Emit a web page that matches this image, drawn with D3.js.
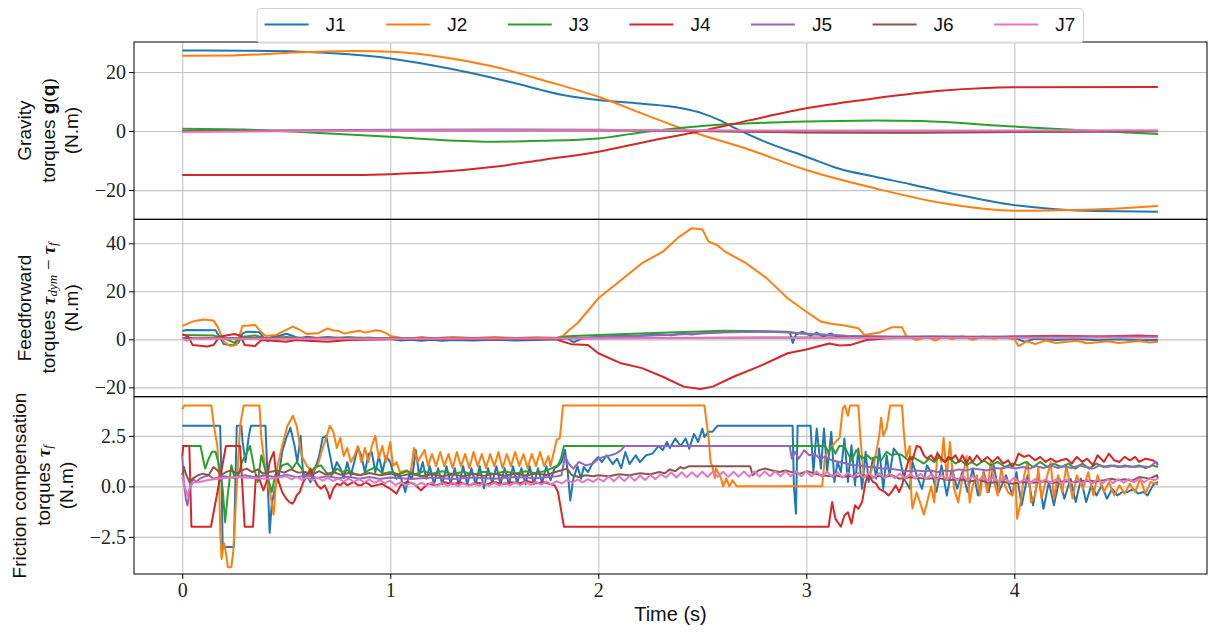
<!DOCTYPE html>
<html>
<head>
<meta charset="utf-8">
<script src="https://cdn.jsdelivr.net/npm/d3@7"></script>
<style>
body { margin: 0; background: #fff; }
</style>
</head>
<body>
<svg id="chart" width="1211" height="633"></svg>
<script>
var joints = ["J1", "J2", "J3", "J4", "J5", "J6", "J7"];
var colors = ["#1f77b4", "#ff7f0e", "#2ca02c", "#d62728", "#9467bd", "#8c564b", "#e377c2"];

var xTicks = [0, 1, 2, 3, 4];
var gravTicks = [-20, 0, 20];
var ffTicks = [-20, 0, 20, 40];
var fricTicks = [-2.5, 0, 2.5];

// gravity torques g(q), [time, value]
var gravJ1 = [[0,27.3],[0.3,27.2],[0.57,26.9],[0.8,26.0],[1.0,24.6],[1.2,22.3],[1.4,19.5],[1.6,16.2],[1.83,12.2],[2.0,10.5],[2.2,9.3],[2.4,7.7],[2.5,6.0],[2.58,3.8],[2.66,0.9],[2.8,-3.6],[3.0,-8.7],[3.15,-12.6],[3.33,-15.5],[3.5,-18.0],[3.66,-20.6],[3.83,-23.0],[4.0,-25.1],[4.2,-26.5],[4.39,-27.1],[4.69,-27.3]];
var gravJ2 = [[0,25.5],[0.24,25.6],[0.57,26.7],[0.84,27.1],[1.0,26.9],[1.24,25.2],[1.5,21.8],[1.73,17.3],[2.0,11.6],[2.23,5.4],[2.4,0.9],[2.5,-1.4],[2.73,-6.4],[3.0,-13.2],[3.33,-19.4],[3.66,-24.5],[4.0,-27.0],[4.22,-26.8],[4.5,-26.2],[4.69,-25.4]];
var gravJ3 = [[0,0.8],[0.3,0.5],[0.57,-0.3],[1.0,-1.9],[1.24,-3.0],[1.5,-3.6],[1.73,-3.3],[2.0,-2.5],[2.23,-0.2],[2.5,1.7],[2.73,2.6],[3.0,3.2],[3.33,3.6],[3.55,3.4],[4.0,1.5],[4.39,0.0],[4.69,-1.0]];
var gravJ4 = [[0,-14.9],[0.74,-14.9],[1.0,-14.6],[1.24,-13.8],[1.5,-12.1],[1.73,-9.8],[2.0,-7.0],[2.23,-3.6],[2.5,0.1],[2.73,3.7],[3.0,7.7],[3.33,11.1],[3.66,13.7],[4.0,14.8],[4.69,14.9]];
var gravJ5 = [[0,-0.1],[0.5,0.2],[1.0,0.4],[1.5,0.5],[2.0,0.4],[2.5,0.0],[3.0,-0.4],[3.5,-0.5],[4.0,-0.3],[4.69,0.0]];
var gravJ6 = [[0,0.0],[1.0,0.2],[2.0,0.2],[2.5,0.0],[3.0,-0.5],[3.5,-0.6],[4.0,-0.3],[4.69,-0.1]];
var gravJ7 = [[0,-0.3],[1.0,0.2],[2.0,0.3],[3.0,0.2],[4.0,0.2],[4.69,0.3]];

// feedforward torques tau_dym - tau_f
var ffJ1 = [[0,3.5],[0.02,3.9],[0.16,3.8],[0.18,1],[0.2,-2],[0.24,-2.5],[0.27,-1.5],[0.29,2.5],[0.31,3.2],[0.37,3.0],[0.39,0.8],[0.41,-0.8],[0.43,1.2],[0.47,1.5],[0.5,2.3],[0.53,1.5],[0.56,0.4],[0.6,1.1],[0.65,0.6],[0.7,1.0],[0.75,0.5],[0.8,0.9],[0.85,0.4],[0.9,0.7],[0.95,0.3],[1.0,0.2],[1.05,-0.5],[1.1,-0.2],[1.15,-0.6],[1.2,-0.2],[1.25,-0.6],[1.3,-0.3],[1.4,-0.5],[1.5,-0.2],[1.6,-0.5],[1.7,-0.3],[1.8,0.0],[1.85,0.6],[1.88,-1.2],[1.92,0.3],[2.0,1.0],[2.1,1.5],[2.2,1.6],[2.3,2.0],[2.35,1.7],[2.4,2.4],[2.45,2.0],[2.5,2.6],[2.6,3.0],[2.7,3.3],[2.8,3.2],[2.92,3.1],[2.935,-1.5],[2.95,2.0],[2.98,3.2],[3.02,1.5],[3.05,2.8],[3.08,1.2],[3.12,2.4],[3.15,1.0],[3.25,0.9],[3.4,1.0],[3.6,1.2],[3.8,1.0],[4.0,0.6],[4.05,-1.0],[4.1,0.2],[4.2,-0.3],[4.3,0.1],[4.4,-0.4],[4.5,0.0],[4.6,-0.4],[4.69,-0.3]];
var ffJ2 = [[0,5.6],[0.05,7.4],[0.1,8.3],[0.15,7.8],[0.17,5.3],[0.2,-1.0],[0.23,-2.8],[0.26,-2.4],[0.29,5.6],[0.35,6.0],[0.37,3.9],[0.4,1.4],[0.45,1.8],[0.5,3.9],[0.53,5.3],[0.56,4.2],[0.6,2.2],[0.65,2.5],[0.7,4.6],[0.72,3.8],[0.75,3.5],[0.78,2.4],[0.8,2.8],[0.83,3.3],[0.85,3.6],[0.88,2.8],[0.9,3.2],[0.93,3.8],[0.95,3.6],[0.98,2.6],[1.0,1.4],[1.05,0.7],[1.1,0.4],[1.15,1.0],[1.2,0.5],[1.3,1.0],[1.4,0.6],[1.5,1.0],[1.6,0.6],[1.7,0.9],[1.8,0.7],[1.83,1.4],[1.86,3.9],[1.9,6.7],[2.0,17.1],[2.11,24.7],[2.21,31.7],[2.31,36.5],[2.39,42.8],[2.45,46.3],[2.5,45.8],[2.53,40.7],[2.57,39.3],[2.61,36.5],[2.71,31.7],[2.81,25.4],[2.91,17.1],[3.0,11.5],[3.07,7.4],[3.12,6.5],[3.17,6.0],[3.25,4.6],[3.28,1.8],[3.35,2.8],[3.41,5.0],[3.46,5.0],[3.48,1.4],[3.53,-0.3],[3.58,1.0],[3.62,-0.5],[3.66,1.2],[3.7,0.0],[3.75,1.3],[3.8,-0.2],[3.85,1.2],[3.9,0.2],[3.95,0.8],[4.0,0.0],[4.02,-2.8],[4.06,-0.8],[4.1,-2.0],[4.15,-0.5],[4.2,-1.5],[4.3,-0.6],[4.35,-1.6],[4.45,-0.8],[4.5,-1.5],[4.6,-0.7],[4.65,-1.3],[4.69,-1.0]];
var ffJ3 = [[0,1.8],[0.15,1.6],[0.2,0.5],[0.25,-1.5],[0.28,1.0],[0.35,1.6],[0.4,0.5],[0.5,1.0],[0.6,0.6],[0.8,0.8],[1.0,0.4],[1.4,0.3],[1.8,0.6],[1.85,1.3],[2.0,1.8],[2.3,2.7],[2.6,3.6],[2.9,3.2],[3.0,2.2],[3.2,1.4],[3.4,1.0],[4.0,0.9],[4.69,1.0]];
var ffJ4 = [[0,2.2],[0.03,1.0],[0.05,-2.4],[0.12,-3.0],[0.15,-2.4],[0.18,1.1],[0.25,2.2],[0.28,1.5],[0.3,-2.4],[0.35,-2.8],[0.38,-0.3],[0.45,-0.7],[0.5,-1.0],[0.55,-0.3],[0.6,-0.6],[0.7,-1.0],[0.8,-0.3],[1.0,0.0],[1.8,0.0],[1.82,-0.7],[1.87,-2.0],[1.95,-2.4],[2.0,-5.8],[2.11,-10.0],[2.21,-12.0],[2.31,-15.6],[2.41,-19.7],[2.49,-20.7],[2.55,-19.7],[2.65,-15.6],[2.77,-11.4],[2.91,-5.8],[3.0,-4.2],[3.11,-1.7],[3.16,-2.6],[3.21,-2.4],[3.29,-0.3],[3.4,0.5],[3.6,1.0],[3.8,0.6],[4.0,1.2],[4.2,1.5],[4.4,1.2],[4.6,1.6],[4.69,1.3]];
var ffJ5 = [[0,0.5],[1.0,0.4],[1.8,0.5],[2.0,0.9],[2.3,1.7],[2.6,2.8],[2.8,3.3],[2.95,2.6],[3.2,1.4],[3.5,1.1],[4.69,1.2]];
var ffJ6 = [[0,0.6],[1.0,0.5],[2.0,0.5],[3.0,0.8],[4.0,0.9],[4.69,1.0]];
var ffJ7 = [[0,0.5],[0.02,-0.6],[0.05,0.3],[1.0,0.2],[2.0,0.4],[3.0,0.6],[4.0,0.7],[4.69,0.8]];

// friction compensation torques tau_f
var frJ1 = [[0,3.0],[0.182,3.0],[0.19,0],[0.194,-3.0],[0.248,-3.0],[0.262,3.0],[0.284,3.0],[0.29,2.2],[0.304,1.2],[0.32,2.5],[0.33,3.0],[0.4,3.0],[0.407,1.2],[0.42,-2.3],[0.43,-0.9],[0.447,0],[0.464,0.5],[0.48,1.7],[0.5,2.4],[0.52,2.9],[0.54,2.0],[0.553,1.2],[0.569,2.5],[0.582,0.4],[0.6,0.55],[0.616,0.2],[0.633,0.7],[0.658,1.5],[0.675,2.4],[0.692,2.5],[0.709,1.6],[0.726,0.7],[0.743,1.2],[0.76,0.9],[0.776,0.4],[0.793,1.2],[0.81,0.55],[0.827,1.2],[0.844,1.95],[0.861,1.5],[0.878,0.7],[0.895,1.6],[0.911,1.7],[0.928,0.7],[0.945,1.5],[0.962,0.7],[0.98,1.5],[1.0,1.2],[1.013,0.7],[1.03,0.38],[1.046,0.55],[1.063,0.05],[1.072,-0.28],[1.09,0.55],[1.105,0.38],[1.122,1.8],[1.139,0.55],[1.156,1.2],[1.173,0.38],[1.19,1.0],[1.21,0.1],[1.23,0.9],[1.25,0.1],[1.27,1.0],[1.29,0.15],[1.31,0.9],[1.33,0.05],[1.35,1.0],[1.37,0.1],[1.39,0.9],[1.41,0.1],[1.43,1.0],[1.45,-0.1],[1.47,0.9],[1.49,0.15],[1.51,1.0],[1.53,0.1],[1.55,0.9],[1.57,0.1],[1.59,1.0],[1.61,0.15],[1.63,0.9],[1.65,0.1],[1.67,1.0],[1.69,0.1],[1.71,0.9],[1.73,0.15],[1.75,1.0],[1.77,0.3],[1.79,0.9],[1.806,1.0],[1.823,1.2],[1.84,1.8],[1.853,0.7],[1.865,-0.7],[1.88,0.38],[1.9,1.0],[1.917,0.38],[1.93,0.96],[1.95,0.7],[1.975,1.2],[2.0,1.45],[2.017,1.2],[2.04,1.54],[2.07,1.1],[2.09,1.37],[2.11,0.9],[2.13,1.7],[2.15,1.1],[2.18,1.54],[2.2,1.2],[2.23,1.54],[2.26,1.62],[2.29,2.0],[2.31,1.8],[2.33,2.2],[2.344,1.9],[2.37,2.37],[2.395,2.0],[2.42,2.37],[2.437,1.87],[2.46,2.6],[2.48,2.2],[2.5,2.86],[2.51,2.45],[2.53,2.7],[2.548,2.7],[2.573,3.0],[2.934,3.0],[2.94,0.05],[2.95,-1.36],[2.958,3.0],[3.02,3.0],[3.034,0.7],[3.05,2.86],[3.07,0.88],[3.085,2.86],[3.1,0.71],[3.12,2.7],[3.135,0.22],[3.15,1.21],[3.166,0.71],[3.183,2.37],[3.2,0.22],[3.217,2.04],[3.234,0.05],[3.25,1.87],[3.268,-0.12],[3.285,1.71],[3.3,0.22],[3.32,1.37],[3.336,0.38],[3.35,1.87],[3.37,-0.12],[3.386,1.54],[3.4,0.55],[3.42,1.87],[3.446,1.54],[3.47,0.38],[3.497,-0.12],[3.51,1.21],[3.53,0.55],[3.556,-0.12],[3.58,1.04],[3.607,0.55],[3.625,-0.28],[3.65,1.04],[3.675,-0.45],[3.7,0.88],[3.725,-0.12],[3.75,0.71],[3.775,-0.28],[3.8,0.88],[3.825,-0.45],[3.853,0.71],[3.877,-0.28],[3.9,1.04],[3.925,-0.28],[3.96,0.55],[3.99,-0.45],[4.01,0.71],[4.035,-0.94],[4.064,0.55],[4.09,-0.94],[4.115,0.55],[4.14,-1.11],[4.166,0.22],[4.19,-0.94],[4.217,0.38],[4.24,-0.61],[4.27,0.38],[4.295,-0.78],[4.32,0.38],[4.345,-0.78],[4.37,0.05],[4.395,-0.45],[4.42,0.05],[4.445,-0.61],[4.47,-0.12],[4.495,-0.45],[4.52,-0.28],[4.545,-0.28],[4.57,-0.12],[4.595,-0.36],[4.62,-0.28],[4.64,-0.45],[4.666,0.05],[4.69,0.22]];
var frJ2 = [[0,3.82],[0.01,4.0],[0.14,4.0],[0.152,3.0],[0.169,2.0],[0.177,0.4],[0.183,-2.4],[0.189,-3.6],[0.2,-2.8],[0.21,-3.3],[0.219,-4.0],[0.236,-4.0],[0.245,-3.26],[0.262,0],[0.278,3.0],[0.295,4.0],[0.371,4.0],[0.38,2.4],[0.405,0.4],[0.422,-0.3],[0.439,-1.4],[0.456,0.9],[0.48,2.0],[0.506,3.0],[0.532,3.5],[0.55,3.0],[0.574,1.5],[0.6,1.0],[0.624,0.7],[0.65,1.0],[0.675,1.9],[0.692,2.4],[0.709,3.0],[0.726,2.7],[0.743,1.9],[0.76,2.4],[0.776,1.5],[0.793,1.9],[0.81,1.2],[0.827,1.5],[0.844,2.0],[0.861,1.2],[0.878,1.9],[0.895,1.2],[0.911,2.0],[0.928,2.5],[0.945,1.4],[0.962,2.0],[0.979,1.2],[1.0,2.2],[1.013,1.0],[1.03,1.2],[1.046,0.7],[1.08,0.8],[1.097,0.6],[1.114,1.9],[1.131,1.2],[1.148,1.5],[1.165,1.8],[1.182,1.0],[1.2,1.6],[1.22,1.0],[1.24,1.7],[1.26,1.0],[1.28,1.6],[1.3,0.9],[1.32,1.7],[1.34,1.0],[1.36,1.6],[1.38,0.9],[1.4,1.7],[1.42,1.0],[1.44,1.6],[1.46,0.9],[1.48,1.6],[1.5,1.0],[1.52,1.7],[1.54,0.9],[1.56,1.6],[1.58,1.0],[1.6,1.7],[1.62,1.0],[1.64,1.6],[1.66,0.9],[1.68,1.6],[1.7,1.0],[1.72,1.7],[1.74,1.0],[1.76,1.5],[1.77,1.0],[1.8,2.3],[1.815,2.4],[1.82,2.9],[1.83,4.0],[2.51,4.0],[2.53,2.4],[2.54,1.2],[2.548,1.0],[2.56,0.4],[2.565,0.9],[2.59,0.4],[2.6,0],[2.615,0.4],[2.63,0],[2.645,0.3],[2.666,0],[3.076,0],[3.09,1.5],[3.14,2.2],[3.16,2.4],[3.175,3.85],[3.185,4.0],[3.2,3.5],[3.21,4.0],[3.25,4.0],[3.26,2.4],[3.276,0.5],[3.293,0.5],[3.31,0.7],[3.327,1.2],[3.35,2.5],[3.36,3.4],[3.37,2.5],[3.386,2.9],[3.403,4.0],[3.46,4.0],[3.47,2.5],[3.48,1.4],[3.497,2.0],[3.505,-0.45],[3.51,-1.1],[3.53,-0.3],[3.547,-0.8],[3.565,-1.4],[3.58,-0.8],[3.6,0],[3.615,-0.8],[3.63,1.7],[3.65,1.2],[3.66,2.4],[3.675,0.4],[3.69,2.2],[3.71,-0.1],[3.73,-0.8],[3.75,0.4],[3.77,1.5],[3.785,-0.8],[3.8,0.05],[3.82,0.55],[3.835,-0.45],[3.85,0.7],[3.87,-0.3],[3.886,1.2],[3.903,0.2],[3.92,-0.45],[3.937,0.9],[3.954,0.05],[3.97,-0.3],[3.99,-0.45],[4.005,0.4],[4.013,-1.6],[4.03,-0.8],[4.047,0.55],[4.064,1.2],[4.08,-0.8],[4.1,-0.45],[4.115,0.9],[4.13,-0.6],[4.15,0.2],[4.175,1.2],[4.19,-0.6],[4.21,0.55],[4.23,-0.3],[4.25,1.0],[4.28,-0.6],[4.3,0.55],[4.33,-0.12],[4.355,0.7],[4.38,-0.45],[4.4,0.55],[4.43,-0.28],[4.455,0.2],[4.48,-0.45],[4.505,0.05],[4.53,-0.36],[4.555,0.13],[4.58,-0.28],[4.605,0.38],[4.63,-0.36],[4.655,0.22],[4.68,0.13],[4.69,0.08]];
var frJ3 = [[0,2.0],[0.088,2.0],[0.1,1.37],[0.11,0.88],[0.127,1.37],[0.143,1.71],[0.16,1.71],[0.177,1.04],[0.194,-0.12],[0.206,-1.77],[0.22,-0.28],[0.236,1.04],[0.253,0.38],[0.27,0.55],[0.287,1.21],[0.304,1.54],[0.326,2.0],[0.346,0.88],[0.363,0.22],[0.38,1.54],[0.397,0.88],[0.413,0.38],[0.43,-0.28],[0.447,0.55],[0.464,0.71],[0.48,1.04],[0.506,1.13],[0.53,0.88],[0.55,1.21],[0.574,0.88],[0.59,0.55],[0.616,0.71],[0.64,0.96],[0.667,1.04],[0.69,0.71],[0.717,0.55],[0.743,0.88],[0.768,0.71],[0.793,0.79],[0.827,0.63],[0.86,0.55],[0.895,0.79],[0.93,0.96],[0.962,0.63],[1.0,0.71],[1.04,0.6],[1.08,0.75],[1.12,0.6],[1.16,0.75],[1.2,0.62],[1.25,0.75],[1.3,0.6],[1.35,0.72],[1.4,0.58],[1.45,0.72],[1.5,0.6],[1.55,0.75],[1.6,0.62],[1.65,0.75],[1.7,0.65],[1.75,0.78],[1.806,1.04],[1.82,1.37],[1.835,2.0],[3.09,2.0],[3.107,1.71],[3.124,1.95],[3.14,1.62],[3.158,2.0],[3.183,2.0],[3.2,1.62],[3.217,1.29],[3.24,1.79],[3.268,1.37],[3.293,1.54],[3.31,1.37],[3.336,1.46],[3.36,1.29],[3.386,1.71],[3.41,1.54],[3.437,1.62],[3.46,1.54],[3.49,1.29],[3.51,1.46],[3.54,1.29],[3.565,1.13],[3.59,1.37],[3.615,1.21],[3.64,1.46],[3.666,1.21],[3.69,1.37],[3.717,1.13],[3.742,1.29],[3.77,1.04],[3.793,1.21],[3.82,1.04],[3.853,1.29],[3.886,1.04],[3.92,1.21],[3.954,0.96],[3.99,1.13],[4.02,1.04],[4.056,1.21],[4.09,0.96],[4.124,1.21],[4.158,0.96],[4.19,1.13],[4.225,0.96],[4.26,1.13],[4.293,0.88],[4.327,1.13],[4.36,0.88],[4.395,1.13],[4.43,0.96],[4.463,1.04],[4.5,0.96],[4.53,1.04],[4.564,0.96],[4.6,1.04],[4.63,0.91],[4.666,1.04],[4.69,0.96]];
var frJ4 = [[0,1.5],[0.005,2.0],[0.034,2.0],[0.044,-2.0],[0.138,-2.0],[0.21,2.0],[0.278,2.0],[0.3,-2.0],[0.34,-2.0],[0.354,0.55],[0.37,0.38],[0.39,-0.2],[0.405,0.22],[0.42,1.21],[0.44,1.71],[0.45,0.71],[0.464,0.22],[0.48,-0.28],[0.5,-0.61],[0.515,-0.78],[0.53,-0.86],[0.54,-0.7],[0.55,-0.45],[0.565,-0.28],[0.582,0.22],[0.6,0.55],[0.616,0.88],[0.633,0.38],[0.65,0.05],[0.667,-0.12],[0.684,0.05],[0.7,-0.28],[0.709,-0.61],[0.726,-0.12],[0.743,0.13],[0.76,0.05],[0.776,0.22],[0.793,0.05],[0.81,0.15],[0.827,0.22],[0.845,0.05],[0.86,0.05],[0.88,0.2],[0.895,0.13],[0.91,0.0],[0.93,0.05],[0.96,0.13],[0.98,0.0],[1.0,-0.12],[1.03,-0.36],[1.05,0.05],[1.08,0.22],[1.114,0.13],[1.148,-0.2],[1.18,0.13],[1.22,0.05],[1.26,0.2],[1.3,0.1],[1.34,0.2],[1.38,0.05],[1.42,0.18],[1.46,0.1],[1.5,0.22],[1.54,0.1],[1.58,0.2],[1.62,0.15],[1.66,0.25],[1.7,0.15],[1.74,0.2],[1.79,0.05],[1.806,-0.28],[1.82,-1.11],[1.835,-2.0],[3.107,-2.0],[3.124,-0.78],[3.14,-1.61],[3.166,-2.0],[3.183,-1.44],[3.2,-1.28],[3.217,-1.85],[3.234,-0.94],[3.25,-1.11],[3.268,-0.78],[3.285,0.22],[3.3,0.55],[3.32,0.22],[3.336,0.13],[3.35,-0.12],[3.378,-0.28],[3.395,-0.45],[3.41,-0.28],[3.43,0.05],[3.446,-0.28],[3.46,0.05],[3.48,0.88],[3.497,1.46],[3.51,1.29],[3.53,2.0],[3.547,1.95],[3.565,1.54],[3.58,1.37],[3.6,1.54],[3.615,1.29],[3.63,1.62],[3.65,1.37],[3.666,1.21],[3.683,1.46],[3.7,1.37],[3.717,1.54],[3.734,1.21],[3.75,1.54],[3.77,1.13],[3.785,1.46],[3.8,1.21],[3.82,1.54],[3.844,1.21],[3.87,1.46],[3.895,1.21],[3.92,1.46],[3.946,1.13],[3.97,1.29],[3.99,0.96],[4.005,1.21],[4.02,1.62],[4.047,1.46],[4.07,1.54],[4.1,1.29],[4.124,1.46],[4.15,1.21],[4.175,1.37],[4.2,1.21],[4.225,1.29],[4.25,1.37],[4.276,1.13],[4.3,1.46],[4.327,1.21],[4.35,1.37],[4.378,1.04],[4.4,1.54],[4.43,1.21],[4.454,1.62],[4.48,1.29],[4.505,1.21],[4.53,1.46],[4.556,1.29],[4.58,1.46],[4.6,1.21],[4.63,1.37],[4.666,1.29],[4.69,1.13]];
var frJ5 = [[0,1.5],[0.008,0.2],[0.017,-0.6],[0.025,-0.95],[0.034,-0.28],[0.05,0.38],[0.068,0.22],[0.084,0.38],[0.1,0.46],[0.127,0.55],[0.15,0.38],[0.2,0.5],[0.25,0.42],[0.3,0.55],[0.35,0.45],[0.4,0.55],[0.45,0.45],[0.5,0.58],[0.55,0.45],[0.6,0.55],[0.65,0.42],[0.7,0.5],[0.75,0.4],[0.8,0.48],[0.85,0.38],[0.9,0.46],[0.95,0.36],[1.0,0.44],[1.1,0.36],[1.2,0.44],[1.3,0.36],[1.4,0.44],[1.5,0.38],[1.6,0.46],[1.7,0.4],[1.8,0.5],[1.823,0.55],[1.84,1.5],[1.857,1.13],[1.88,0.88],[1.907,1.21],[1.94,1.04],[1.975,1.13],[2.0,1.37],[2.025,1.46],[2.06,1.54],[2.084,1.62],[2.11,1.79],[2.127,2.0],[2.92,2.0],[2.93,1.37],[2.946,1.71],[2.963,1.37],[2.99,1.79],[3.014,1.54],[3.04,1.62],[3.064,1.37],[3.09,1.46],[3.124,1.29],[3.158,1.21],[3.19,1.13],[3.225,1.04],[3.26,1.04],[3.293,0.96],[3.327,0.96],[3.36,0.88],[3.395,0.88],[3.43,0.84],[3.46,0.79],[3.497,0.75],[3.53,0.79],[3.565,0.75],[3.6,0.79],[3.63,0.71],[3.666,0.79],[3.7,0.75],[3.734,0.84],[3.77,0.79],[3.8,0.88],[3.836,0.84],[3.87,0.79],[3.9,0.91],[3.937,0.88],[3.97,0.96],[4.005,0.88],[4.04,0.96],[4.073,0.88],[4.107,1.0],[4.14,0.91],[4.175,1.04],[4.21,0.91],[4.24,1.0],[4.276,0.91],[4.31,1.04],[4.344,0.96],[4.378,0.88],[4.41,1.04],[4.446,0.96],[4.48,1.04],[4.513,0.96],[4.547,1.0],[4.58,0.96],[4.615,1.0],[4.65,0.96],[4.68,1.21],[4.69,1.04]];
var frJ6 = [[0,0.55],[0.008,0.96],[0.017,0.63],[0.034,0.22],[0.05,0.38],[0.076,0.55],[0.1,0.63],[0.127,0.55],[0.15,0.96],[0.17,0.79],[0.186,0.55],[0.21,0.71],[0.236,0.79],[0.26,0.63],[0.287,0.79],[0.31,0.88],[0.337,0.71],[0.363,0.84],[0.388,0.63],[0.42,0.71],[0.456,0.79],[0.49,0.68],[0.523,0.84],[0.557,0.68],[0.59,0.71],[0.624,0.58],[0.658,0.75],[0.69,0.58],[0.726,0.71],[0.76,0.58],[0.8,0.66],[0.85,0.55],[0.9,0.66],[0.95,0.55],[1.0,0.63],[1.05,0.52],[1.1,0.62],[1.15,0.5],[1.2,0.6],[1.25,0.5],[1.3,0.6],[1.35,0.5],[1.4,0.62],[1.45,0.52],[1.5,0.62],[1.55,0.52],[1.6,0.64],[1.65,0.54],[1.7,0.64],[1.75,0.56],[1.806,0.75],[1.85,0.88],[1.873,0.55],[1.907,0.46],[1.94,0.55],[1.975,0.5],[2.0,0.55],[2.05,0.5],[2.1,0.6],[2.15,0.55],[2.2,0.65],[2.25,0.6],[2.293,0.71],[2.32,0.65],[2.344,0.84],[2.37,0.75],[2.395,0.96],[2.41,0.88],[2.437,1.0],[2.73,1.0],[2.742,0.55],[2.77,0.79],[2.8,0.88],[2.836,0.79],[2.87,0.71],[2.9,0.79],[2.937,0.68],[2.97,0.63],[3.005,0.75],[3.04,0.63],[3.073,0.55],[3.107,0.51],[3.14,0.55],[3.175,0.46],[3.21,0.51],[3.24,0.46],[3.276,0.55],[3.31,0.41],[3.344,0.51],[3.378,0.46],[3.41,0.55],[3.446,0.38],[3.5,0.45],[3.58,0.38],[3.63,0.42],[3.683,0.3],[3.73,0.36],[3.785,0.25],[3.83,0.3],[3.886,0.18],[3.94,0.24],[3.99,0.13],[4.04,0.22],[4.09,0.18],[4.14,0.25],[4.19,0.18],[4.24,0.25],[4.29,0.22],[4.34,0.28],[4.395,0.25],[4.43,0.3],[4.463,0.38],[4.5,0.3],[4.53,0.35],[4.565,0.28],[4.6,0.46],[4.63,0.42],[4.65,0.38],[4.686,0.55],[4.69,0.38]];
var frJ7 = [[0,0.46],[0.01,0.05],[0.025,-0.45],[0.034,-0.12],[0.05,0.18],[0.084,0.22],[0.118,0.3],[0.17,0.38],[0.25,0.46],[0.337,0.41],[0.42,0.38],[0.5,0.5],[0.525,0.34],[0.55,0.48],[0.575,0.32],[0.6,0.46],[0.625,0.3],[0.65,0.44],[0.675,0.28],[0.7,0.42],[0.725,0.26],[0.75,0.4],[0.775,0.24],[0.8,0.38],[0.825,0.22],[0.85,0.36],[0.875,0.2],[0.9,0.34],[0.925,0.18],[0.95,0.3],[0.975,0.16],[1.0,0.28],[1.025,0.06],[1.05,0.2],[1.075,0.05],[1.1,0.19],[1.125,0.04],[1.15,0.18],[1.175,0.04],[1.2,0.18],[1.225,0.03],[1.25,0.17],[1.275,0.03],[1.3,0.17],[1.325,0.02],[1.35,0.16],[1.375,0.02],[1.4,0.16],[1.425,0.03],[1.45,0.17],[1.475,0.03],[1.5,0.18],[1.525,0.04],[1.55,0.18],[1.575,0.05],[1.6,0.2],[1.625,0.06],[1.65,0.21],[1.675,0.07],[1.7,0.22],[1.725,0.08],[1.75,0.24],[1.775,0.1],[1.8,0.26],[1.825,0.14],[1.85,0.32],[1.875,0.18],[1.9,0.34],[1.925,0.2],[1.95,0.36],[1.975,0.22],[2.0,0.4],[2.025,0.24],[2.05,0.5],[2.075,0.25],[2.1,0.5],[2.125,0.26],[2.15,0.52],[2.175,0.28],[2.2,0.54],[2.225,0.32],[2.25,0.56],[2.275,0.36],[2.3,0.6],[2.325,0.44],[2.35,0.7],[2.375,0.44],[2.4,0.7],[2.425,0.45],[2.45,0.7],[2.475,0.46],[2.5,0.72],[2.525,0.46],[2.55,0.72],[2.575,0.47],[2.6,0.72],[2.625,0.47],[2.65,0.72],[2.675,0.48],[2.7,0.74],[2.725,0.48],[2.75,0.74],[2.775,0.48],[2.8,0.74],[2.825,0.5],[2.85,0.75],[2.875,0.5],[2.9,0.75],[2.925,0.5],[2.95,0.75],[2.975,0.5],[3.0,0.75],[3.025,0.5],[3.05,0.74],[3.075,0.48],[3.1,0.72],[3.125,0.46],[3.15,0.7],[3.175,0.44],[3.2,0.68],[3.225,0.44],[3.25,0.68],[3.275,0.42],[3.3,0.66],[3.325,0.42],[3.35,0.66],[3.375,0.42],[3.4,0.64],[3.425,0.4],[3.45,0.64],[3.475,0.4],[3.5,0.62],[3.525,0.38],[3.55,0.62],[3.575,0.36],[3.6,0.6],[3.625,0.34],[3.65,0.58],[3.675,0.32],[3.7,0.56],[3.725,0.3],[3.75,0.54],[3.775,0.28],[3.8,0.52],[3.825,0.26],[3.85,0.5],[3.875,0.24],[3.9,0.48],[3.925,0.22],[3.95,0.46],[3.975,0.2],[4.0,0.44],[4.025,0.18],[4.05,0.38],[4.075,0.16],[4.1,0.36],[4.125,0.16],[4.15,0.36],[4.175,0.15],[4.2,0.35],[4.225,0.14],[4.25,0.34],[4.275,0.14],[4.3,0.34],[4.325,0.14],[4.35,0.34],[4.375,0.15],[4.4,0.35],[4.425,0.16],[4.45,0.36],[4.475,0.16],[4.5,0.36],[4.525,0.18],[4.55,0.36],[4.575,0.2],[4.6,0.38],[4.625,0.2],[4.65,0.4],[4.675,0.3],[4.69,0.4]];

var svg = d3.select("#chart");

var left = 134, right = 1207;
var x = d3.scaleLinear().domain([-0.232, 4.926]).range([left, right]);

var panels = [
  { top: 42, bottom: 219.3, domain: [-29.9, 30.17], ticks: gravTicks, fmt: d3.format("d"), curve: d3.curveMonotoneX,
    series: [gravJ1, gravJ2, gravJ3, gravJ4, gravJ5, gravJ6, gravJ7] },
  { top: 219.3, bottom: 396.7, domain: [-23.9, 50], ticks: ffTicks, fmt: d3.format("d"), curve: d3.curveLinear,
    series: [ffJ1, ffJ2, ffJ3, ffJ4, ffJ5, ffJ6, ffJ7] },
  { top: 396.7, bottom: 574, domain: [-4.34, 4.44], ticks: fricTicks, fmt: d3.format(".1f"), curve: d3.curveLinear,
    series: [frJ1, frJ2, frJ3, frJ4, frJ5, frJ6, frJ7] }
];

var tickFont = "'Liberation Serif', 'DejaVu Serif', serif";
var labelFont = "'Liberation Sans', Arial, sans-serif";

panels.forEach(function(p, pi) {
  var y = d3.scaleLinear().domain(p.domain).range([p.bottom, p.top]);
  var g = svg.append("g");

  svg.append("clipPath").attr("id", "clip" + pi)
    .append("rect").attr("x", left).attr("y", p.top).attr("width", right - left).attr("height", p.bottom - p.top);

  // grid
  var gx = g.append("g").attr("transform", "translate(0," + p.bottom + ")")
    .call(d3.axisBottom(x).tickValues(xTicks).tickSize(-(p.bottom - p.top)).tickFormat(""));
  var gy = g.append("g").attr("transform", "translate(" + left + ",0)")
    .call(d3.axisLeft(y).tickValues(p.ticks).tickSize(-(right - left)).tickFormat(""));
  [gx, gy].forEach(function(a) {
    a.select(".domain").remove();
    a.selectAll("line").attr("stroke", "#c4c4c4").attr("stroke-width", 1.1);
  });

  // lines
  var line = d3.line().curve(p.curve).x(function(d) { return x(d[0]); }).y(function(d) { return y(d[1]); });
  g.append("g").attr("clip-path", "url(#clip" + pi + ")")
    .selectAll("path").data(p.series).enter().append("path")
    .attr("d", line)
    .attr("fill", "none")
    .attr("stroke", function(d, i) { return colors[i]; })
    .attr("stroke-width", 2)
    .attr("stroke-linejoin", "round");

  // spines
  g.append("rect").attr("x", left).attr("y", p.top).attr("width", right - left).attr("height", p.bottom - p.top)
    .attr("fill", "none").attr("stroke", "#000").attr("stroke-width", 1);

  // y axis ticks
  var ay = g.append("g").attr("transform", "translate(" + left + ",0)")
    .call(d3.axisLeft(y).tickValues(p.ticks).tickSize(5).tickPadding(3).tickFormat(p.fmt));
  ay.select(".domain").remove();
  ay.selectAll("text").attr("font-family", tickFont).attr("font-size", 20).attr("fill", "#222");

  if (pi === 2) {
    var ax = g.append("g").attr("transform", "translate(0," + p.bottom + ")")
      .call(d3.axisBottom(x).tickValues(xTicks).tickSize(5).tickPadding(4).tickFormat(d3.format("d")));
    ax.select(".domain").remove();
    ax.selectAll("text").attr("font-family", tickFont).attr("font-size", 20).attr("fill", "#222");
  }
});

// y labels (rotated, three lines each)
function yLabel(cy, xs, build) {
  build.forEach(function(fn, i) {
    var t = svg.append("text")
      .attr("transform", "translate(" + xs[i] + "," + cy + ") rotate(-90)")
      .attr("text-anchor", "middle")
      .attr("dominant-baseline", "central")
      .attr("font-family", labelFont)
      .attr("font-size", 19)
      .attr("fill", "#111");
    fn(t);
  });
}
function plain(s) { return function(t) { t.text(s); }; }

yLabel(130.6, [24, 48, 71.5], [
  plain("Gravity"),
  function(t) {
    t.append("tspan").text("torques ");
    t.append("tspan").attr("font-weight", "bold").text("g");
    t.append("tspan").attr("font-family", tickFont).text("(");
    t.append("tspan").attr("font-weight", "bold").text("q");
    t.append("tspan").attr("font-family", tickFont).text(")");
  },
  plain("(N.m)")
]);

yLabel(308, [24.5, 48, 71.5], [
  plain("Feedforward"),
  function(t) {
    t.append("tspan").text("torques ");
    t.append("tspan").attr("font-family", tickFont).attr("font-weight", "bold").attr("font-style", "italic").text("τ");
    t.append("tspan").attr("font-family", tickFont).attr("font-style", "italic").attr("font-size", 13).attr("dy", 4).text("dym");
    t.append("tspan").attr("font-family", tickFont).attr("dy", -4).text(" − ");
    t.append("tspan").attr("font-family", tickFont).attr("font-weight", "bold").attr("font-style", "italic").text("τ");
    t.append("tspan").attr("font-family", tickFont).attr("font-style", "italic").attr("font-size", 13).attr("dy", 4).text("f");
  },
  plain("(N.m)")
]);

yLabel(485.5, [19.5, 43, 66], [
  plain("Friction compensation"),
  function(t) {
    t.append("tspan").text("torques ");
    t.append("tspan").attr("font-family", tickFont).attr("font-weight", "bold").attr("font-style", "italic").text("τ");
    t.append("tspan").attr("font-family", tickFont).attr("font-style", "italic").attr("font-size", 13).attr("dy", 4).text("f");
  },
  plain("(N.m)")
]);

// x label
svg.append("text")
  .attr("x", (left + right) / 2).attr("y", 621)
  .attr("text-anchor", "middle")
  .attr("font-family", labelFont).attr("font-size", 20).attr("fill", "#111")
  .text("Time (s)");

// legend
var legend = svg.append("g");
legend.append("rect")
  .attr("x", 257).attr("y", 8.5).attr("width", 826.5).attr("height", 34.5)
  .attr("rx", 4).attr("ry", 4)
  .attr("fill", "#fff").attr("fill-opacity", 0.85)
  .attr("stroke", "#d0d0d0").attr("stroke-width", 1);

var item = legend.selectAll("g.item").data(joints).enter().append("g")
  .attr("class", "item")
  .attr("transform", function(d, i) { return "translate(" + (264.6 + i * 121.6) + ",24.5)"; });
item.append("line").attr("x1", 0).attr("x2", 44).attr("y1", 0).attr("y2", 0)
  .attr("stroke", function(d, i) { return colors[i]; }).attr("stroke-width", 2);
item.append("text").attr("x", 61).attr("y", 0).attr("dominant-baseline", "central")
  .attr("font-family", labelFont).attr("font-size", 19).attr("fill", "#111")
  .text(function(d) { return d; });
</script>
</body>
</html>
